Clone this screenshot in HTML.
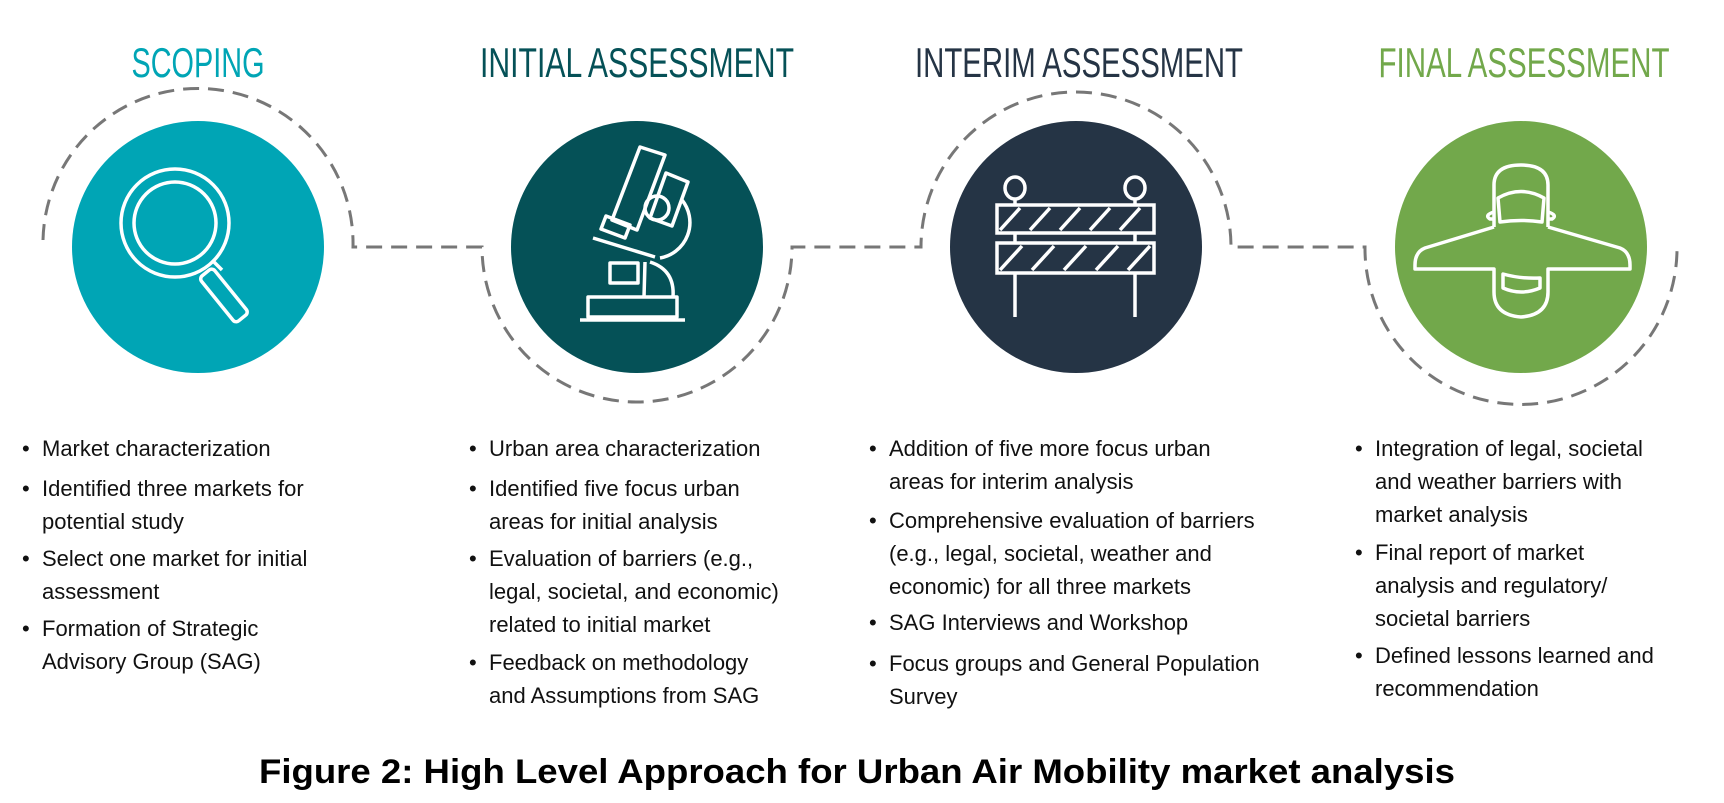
<!DOCTYPE html>
<html><head><meta charset="utf-8"><style>
html,body{margin:0;padding:0;background:#fff;}
#wrap{position:relative;width:1724px;height:803px;overflow:hidden;background:#fff;font-family:"Liberation Sans",sans-serif;}
svg{position:absolute;left:0;top:0;}
.col{position:absolute;top:0;font-size:22px;line-height:33px;color:#111;white-space:nowrap;}
.item{position:absolute;left:0;}
.item::before{content:"•";position:absolute;left:-20px;}
</style></head><body>
<div id="wrap">
<svg width="1724" height="803" viewBox="0 0 1724 803">
  <path fill="none" stroke="#777" stroke-width="3" stroke-dasharray="16 9"
    d="M43,240 A155,155 0 1 1 353,247 L482,247 A155,155 0 0 0 792,247 L921,247 A155,155 0 0 1 1231,247 L1365,247 A155,155 0 0 0 1677,250"/>
  <text x="198" y="77" text-anchor="middle" font-size="42" fill="#00A5B5" textLength="133" lengthAdjust="spacingAndGlyphs">SCOPING</text>
  <text x="637" y="77" text-anchor="middle" font-size="42" fill="#055157" textLength="314" lengthAdjust="spacingAndGlyphs">INITIAL ASSESSMENT</text>
  <text x="1079" y="77" text-anchor="middle" font-size="42" fill="#253445" textLength="328" lengthAdjust="spacingAndGlyphs">INTERIM ASSESSMENT</text>
  <text x="1524" y="77" text-anchor="middle" font-size="42" fill="#72A84B" textLength="291" lengthAdjust="spacingAndGlyphs">FINAL ASSESSMENT</text>

  <circle cx="198" cy="247" r="126" fill="#00A5B5"/>
  <circle cx="637" cy="247" r="126" fill="#055157"/>
  <circle cx="1076" cy="247" r="126" fill="#253445"/>
  <circle cx="1521" cy="247" r="126" fill="#72A84B"/>

  <g fill="none" stroke="#fff" stroke-width="3.5">
    <circle cx="175" cy="223" r="54"/>
    <circle cx="175" cy="223" r="41"/>
    <line x1="212" y1="260" x2="222" y2="270"/>
    <rect x="214" y="276" width="58" height="17" rx="4" transform="rotate(51 222 270)"/>
  </g>

  <g fill="none" stroke="#fff" stroke-width="3.5" stroke-linejoin="round">
    <rect x="588" y="297" width="89" height="20"/>
    <line x1="580" y1="320" x2="685" y2="320"/>
    <line x1="593" y1="238" x2="655" y2="257"/>
    <rect x="610" y="263" width="28" height="20"/>
    <polygon points="640,147 665,155 637,230 612,220"/>
    <polygon points="666,173 688,182 672,226 650,218"/>
    <circle cx="657" cy="208" r="12"/>
    <polygon points="606,216 630,225 625,238 601,229"/>
    <path d="M682,200 A36,36 0 0 1 660,258"/>
    <path d="M645,262 L644,297 M650,262 Q675,270 673,297"/>
  </g>

  <g fill="none" stroke="#fff" stroke-width="3.5">
    <rect x="997" y="205" width="157" height="28"/>
    <rect x="997" y="243" width="157" height="30"/>
    <path d="M1000,230 L1020,208 M1030,230 L1050,208 M1060,230 L1080,208 M1090,230 L1110,208 M1120,230 L1140,208"/>
    <path d="M1000,270 L1022,246 M1032,270 L1054,246 M1064,270 L1086,246 M1096,270 L1118,246 M1128,270 L1150,246"/>
    <line x1="1015" y1="199" x2="1015" y2="205"/><line x1="1135" y1="199" x2="1135" y2="205"/>
    <line x1="1015" y1="273" x2="1015" y2="317"/><line x1="1135" y1="273" x2="1135" y2="317"/>
    <line x1="1015" y1="233" x2="1015" y2="243"/><line x1="1135" y1="233" x2="1135" y2="243"/>
    <ellipse cx="1015" cy="188" rx="10" ry="11"/>
    <ellipse cx="1135" cy="188" rx="10" ry="11"/>
  </g>

  <g fill="none" stroke="#fff" stroke-width="3.5" stroke-linejoin="round">
    <path d="M1494,227 L1494,185 Q1494,165 1521,165 Q1548,165 1548,185 L1548,227"/>
    <path d="M1494,212 Q1484,215 1490,219 L1494,219 M1548,212 Q1558,215 1552,219 L1548,219"/>
    <path d="M1500,222 L1498,198 Q1521,185 1544,198 L1542,222 Q1521,219 1500,222 Z"/>
    <path d="M1494,227 L1425,248 Q1415,252 1415,265 L1415,269 L1494,269 L1494,292 Q1494,315 1521,317 Q1548,315 1548,292 L1548,269 L1630,269 L1630,265 Q1630,252 1620,248 L1548,227"/>
    <path d="M1503,274 L1503,288 Q1521,296 1540,288 L1540,278 Q1521,279 1503,274 Z"/>
  </g>

  <text x="857" y="783" text-anchor="middle" font-size="34" font-weight="bold" fill="#000" textLength="1196" lengthAdjust="spacingAndGlyphs">Figure 2: High Level Approach for Urban Air Mobility market analysis</text>
</svg>

<div class="col" style="left:42px">
  <div class="item" style="top:432px">Market characterization</div>
  <div class="item" style="top:472px">Identified three markets for<br>potential study</div>
  <div class="item" style="top:542px">Select one market for initial<br>assessment</div>
  <div class="item" style="top:612px">Formation of Strategic<br>Advisory Group (SAG)</div>
</div>
<div class="col" style="left:489px">
  <div class="item" style="top:432px">Urban area characterization</div>
  <div class="item" style="top:472px">Identified five focus urban<br>areas for initial analysis</div>
  <div class="item" style="top:542px">Evaluation of barriers (e.g.,<br>legal, societal, and economic)<br>related to initial market</div>
  <div class="item" style="top:646px">Feedback on methodology<br>and Assumptions from SAG</div>
</div>
<div class="col" style="left:889px">
  <div class="item" style="top:432px">Addition of five more focus urban<br>areas for interim analysis</div>
  <div class="item" style="top:504px">Comprehensive evaluation of barriers<br>(e.g., legal, societal, weather and<br>economic) for all three markets</div>
  <div class="item" style="top:606px">SAG Interviews and Workshop</div>
  <div class="item" style="top:647px">Focus groups and General Population<br>Survey</div>
</div>
<div class="col" style="left:1375px">
  <div class="item" style="top:432px">Integration of legal, societal<br>and weather barriers with<br>market analysis</div>
  <div class="item" style="top:536px">Final report of market<br>analysis and regulatory/<br>societal barriers</div>
  <div class="item" style="top:639px">Defined lessons learned and<br>recommendation</div>
</div>
</div>
</body></html>
